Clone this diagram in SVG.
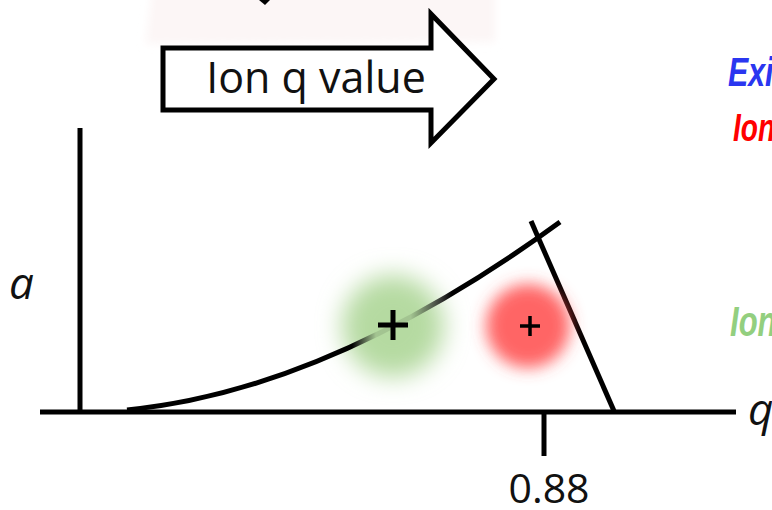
<svg xmlns="http://www.w3.org/2000/svg" width="772" height="510" viewBox="0 0 772 510">
<defs>
<style>
.ln{fill:none;stroke:#000;stroke-width:5}
.lbl{font-family:"Open Sans","Liberation Sans",sans-serif;fill:#111}
.ax{font-family:"Open Sans","Liberation Sans",sans-serif;font-style:italic;fill:#111}
.leg{font-family:"Liberation Sans",sans-serif;font-weight:bold;font-style:italic}
</style>
<filter id="blurG" x="-1" y="-1" width="3" height="3"><feGaussianBlur stdDeviation="12"/></filter>
<filter id="blurR" x="-1" y="-1" width="3" height="3"><feGaussianBlur stdDeviation="8"/></filter>
<filter id="blurP" x="-0.5" y="-1" width="2" height="3"><feGaussianBlur stdDeviation="4"/></filter>
<linearGradient id="fade" gradientUnits="userSpaceOnUse" x1="127" y1="0" x2="560" y2="0">
<stop offset="0" stop-color="#000"/>
<stop offset="0.52" stop-color="#000"/>
<stop offset="0.575" stop-color="#000" stop-opacity="0.1"/>
<stop offset="0.655" stop-color="#000" stop-opacity="0.1"/>
<stop offset="0.75" stop-color="#000"/>
<stop offset="1" stop-color="#000"/>
</linearGradient>
</defs>
<rect width="772" height="510" fill="#fff"/>
<g id="bg-glow">
<polygon points="152,-10 495,-10 495,42 146,44" fill="#fcf6f6" filter="url(#blurP)"/>
<polygon points="259,0 270,0 265,5" fill="#000"/>
</g>
<g id="arrow">
<polygon points="163,48 431,48 431,14 494,79 431,143 431,110 163,110" fill="#fff" stroke="#000" stroke-width="5" stroke-linejoin="miter"/>
<text class="lbl" x="316" y="93" font-size="43" text-anchor="middle">Ion q value</text>
</g>
<g id="legend">
<text class="leg" transform="translate(728,86) scale(0.74,1)" font-size="41" fill="#2a36f0">Exi</text>
<text class="leg" transform="translate(733,141) scale(0.74,1)" font-size="38" fill="#ff0000">Ion</text>
<text class="leg" transform="translate(730,336) scale(0.74,1)" font-size="42" fill="#93cf7f">Ion</text>
</g>
<g id="green-blob">
<circle cx="393" cy="326" r="51" fill="#b5daa1" filter="url(#blurG)"/>
</g>
<g id="connectors">
<line class="ln" x1="80" y1="128" x2="80" y2="414"/>
<line class="ln" x1="40" y1="412" x2="736" y2="412"/>
<line class="ln" x1="544" y1="412" x2="544" y2="456"/>
<path d="M127,410 Q330,390 560,222" fill="none" stroke="url(#fade)" stroke-width="5"/>
<line class="ln" x1="531" y1="221" x2="614" y2="411"/>
</g>
<g id="red-blob">
<circle cx="528" cy="326" r="42" fill="#ff4a4a" fill-opacity="0.85" filter="url(#blurR)"/>
</g>
<g id="green-point">
<path d="M378,325 H408 M393,310 V340" stroke="#000" stroke-width="5" fill="none"/>
</g>
<g id="red-point">
<path d="M520,326 H540 M530,316 V336" stroke="#000" stroke-width="3.5" fill="none"/>
</g>
<g id="labels">
<text class="ax" x="9" y="299" font-size="44">a</text>
<text class="ax" x="748" y="425" font-size="44">q</text>
<text class="lbl" x="549" y="503" font-size="41" text-anchor="middle">0.88</text>
</g>
</svg>
